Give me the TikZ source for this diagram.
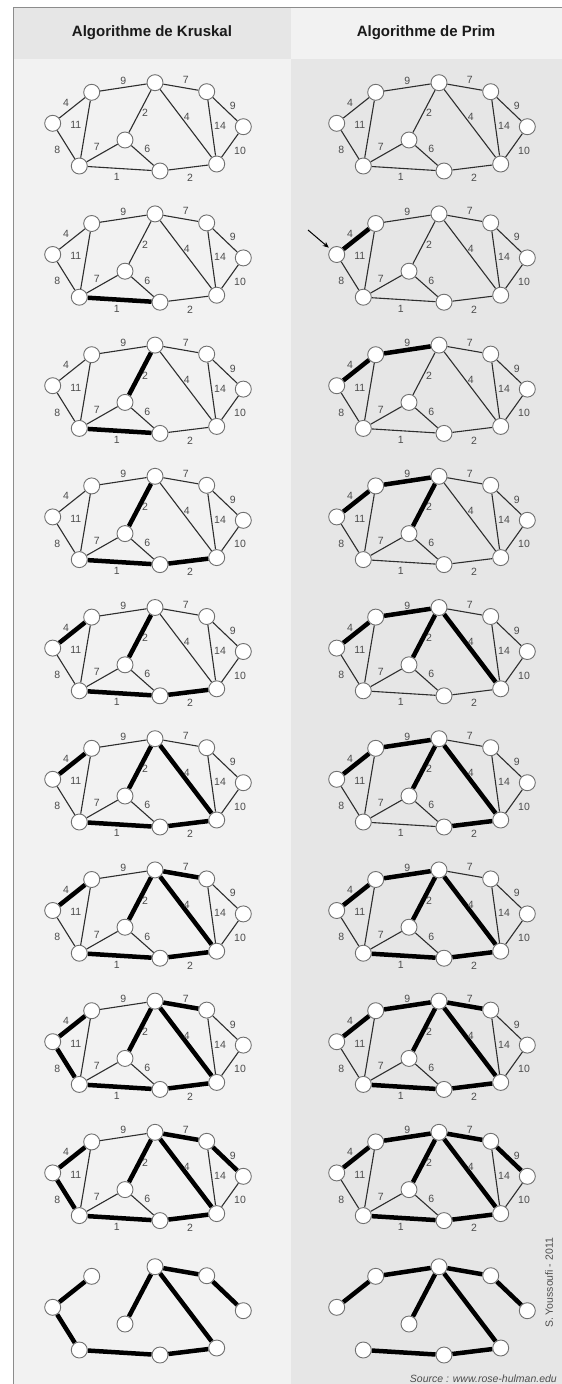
\documentclass[tikz,border=0pt]{standalone}
\usepackage{fontspec}
\setmainfont{Liberation Sans}
\usetikzlibrary{arrows.meta}
\pgfdeclarelayer{back}
\pgfdeclarelayer{bg}
\pgfsetlayers{back,bg,main}
\definecolor{darkbg}{HTML}{E6E6E6}
\definecolor{lightbg}{HTML}{F2F2F2}
\definecolor{framegray}{HTML}{8C8C8C}
\definecolor{nodeline}{HTML}{707070}
\definecolor{edgegray}{HTML}{2E2E2E}
\definecolor{labgray}{HTML}{4D4D4D}
\definecolor{hdrtext}{HTML}{1A1A1A}
\tikzset{
  vtx/.style={circle, draw=nodeline, fill=white, line width=0.9pt, minimum size=16pt, inner sep=0pt},
  thinedge/.style={draw=edgegray, line width=1.1pt},
  thickedge/.style={draw=black, line width=4.5pt},
  elab/.style={text=labgray, font=\fontsize{10.5}{11}\selectfont, inner sep=0pt},
  hdr/.style={text=hdrtext, font=\bfseries\fontsize{15}{16}\selectfont, inner sep=0pt},
  note/.style={text=labgray, font=\fontsize{10.5}{12}\selectfont, inner sep=0pt},
}
\newcommand\gnodes[3]{%
  \begin{scope}[shift={(#2,#3)}]
    \node[vtx] (#1A) at (52.7,123.3) {};
    \node[vtx] (#1B) at (91.7,92.3) {};
    \node[vtx] (#1C) at (155,82.7) {};
    \node[vtx] (#1D) at (206.7,91.7) {};
    \node[vtx] (#1E) at (243.3,126.7) {};
    \node[vtx] (#1F) at (79.3,166) {};
    \node[vtx] (#1G) at (125,140) {};
    \node[vtx] (#1H) at (160,171) {};
    \node[vtx] (#1I) at (216.7,164) {};
  \end{scope}}
\newcommand\glabels[3]{%
  \begin{scope}[shift={(#2,#3)}]
    \node[elab] (#1lBC) at (123.3,80.7) {9};
    \node[elab] (#1lCD) at (185.7,80) {7};
    \node[elab] (#1lAB) at (66,102.7) {4};
    \node[elab] (#1lBF) at (75.7,125) {11};
    \node[elab] (#1lCG) at (145,113.3) {2};
    \node[elab] (#1lCI) at (186.7,117.3) {4};
    \node[elab] (#1lDE) at (232.7,106) {9};
    \node[elab] (#1lDI) at (220,126) {14};
    \node[elab] (#1lEI) at (240,150.7) {10};
    \node[elab] (#1lAF) at (57.3,150) {8};
    \node[elab] (#1lFG) at (96.7,147.3) {7};
    \node[elab] (#1lGH) at (147.3,149.3) {6};
    \node[elab] (#1lFH) at (116.7,177.3) {1};
    \node[elab] (#1lHI) at (190,178.3) {2};
  \end{scope}}
\newcommand\gthin[1]{%
  \begin{pgfonlayer}{bg}
    \foreach \u/\v in {A/B,A/F,B/F,B/C,C/D,C/G,C/I,D/I,D/E,E/I,F/G,G/H,F/H,H/I}
      {\draw[thinedge] (#1\u) -- (#1\v);}
  \end{pgfonlayer}}
\newcommand\gthick[2]{%
  \begin{pgfonlayer}{bg}
    \foreach \u/\v in {#2}
      {\draw[thickedge] (#1\u) -- (#1\v);}
  \end{pgfonlayer}}
\newcommand\fullgraph[4]{\gnodes{#1}{#2}{#3}\glabels{#1}{#2}{#3}\gthin{#1}\gthick{#1}{#4}}
\newcommand\emptygraph[3]{\gnodes{#1}{#2}{#3}\glabels{#1}{#2}{#3}\gthin{#1}}
\begin{document}
\begin{tikzpicture}[x=1pt,y=-1pt]
  \useasboundingbox (0,0) rectangle (562,1384);
  \begin{pgfonlayer}{back}
    \fill[white] (0,0) rectangle (562,1384);
    \fill[lightbg] (13,7) rectangle (291,1384);
    \fill[darkbg] (291,7) rectangle (562,1384);
    \fill[darkbg] (13,7) rectangle (291,59);
    \fill[lightbg] (291,7) rectangle (562,59);
    \draw[framegray, line width=1pt] (13,1384) -- (13,7) -- (562,7);
  \end{pgfonlayer}
  \node[hdr] (hk) at (152,33) {Algorithme de Kruskal};
  \node[hdr] (hp) at (426,33) {Algorithme de Prim};
  % Kruskal
  \emptygraph{ka}{0}{0}
  \fullgraph{kb}{0}{131.2}{F/H}
  \fullgraph{kc}{0}{262.4}{F/H,C/G}
  \fullgraph{kd}{0}{393.6}{F/H,C/G,H/I}
  \fullgraph{ke}{0}{524.8}{F/H,C/G,H/I,A/B}
  \fullgraph{kf}{0}{656}{F/H,C/G,H/I,A/B,C/I}
  \fullgraph{kg}{0}{787.2}{F/H,C/G,H/I,A/B,C/I,C/D}
  \fullgraph{kh}{0}{918.4}{F/H,C/G,H/I,A/B,C/I,C/D,A/F}
  \fullgraph{ki}{0}{1049.6}{F/H,C/G,H/I,A/B,C/I,C/D,A/F,D/E}
  \gnodes{kj}{0}{1184}\gthick{kj}{F/H,C/G,H/I,A/B,C/I,C/D,A/F,D/E}
  % Prim
  \emptygraph{pa}{284}{0}
  \fullgraph{pb}{284}{131.2}{A/B}
  \fullgraph{pc}{284}{262.4}{A/B,B/C}
  \fullgraph{pd}{284}{393.6}{A/B,B/C,C/G}
  \fullgraph{pe}{284}{524.8}{A/B,B/C,C/G,C/I}
  \fullgraph{pf}{284}{656}{A/B,B/C,C/G,C/I,H/I}
  \fullgraph{pg}{284}{787.2}{A/B,B/C,C/G,C/I,H/I,F/H}
  \fullgraph{ph}{284}{918.4}{A/B,B/C,C/G,C/I,H/I,F/H,C/D}
  \fullgraph{pi}{284}{1049.6}{A/B,B/C,C/G,C/I,H/I,F/H,C/D,D/E}
  \gnodes{pj}{284}{1184}\gthick{pj}{A/B,B/C,C/G,C/I,H/I,F/H,C/D,D/E}
  % start arrow
  \coordinate (arrtail) at (308,230);
  \draw[-{Stealth[length=6pt,width=5pt]}, line width=1pt, shorten >=2pt] (arrtail) -- (pbA);
  % credits
  \node[note, rotate=90] (author) at (549,1283) {S. Youssoufi - 2011};
  \node[note, font=\itshape\fontsize{10.5}{12}\selectfont, anchor=base east] (source) at (557,1382) {Source : www.rose-hulman.edu};
\end{tikzpicture}
\end{document}
